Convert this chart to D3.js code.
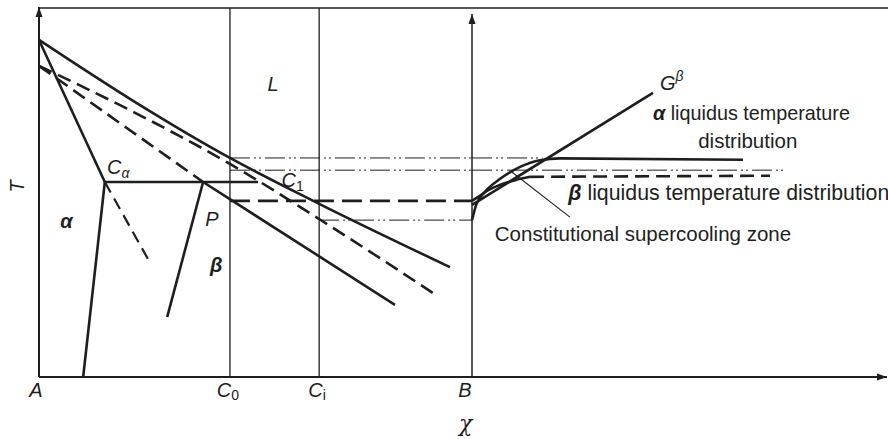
<!DOCTYPE html>
<html><head><meta charset="utf-8">
<script src="https://cdn.jsdelivr.net/npm/d3@7"></script>
<style>body{margin:0;background:#fff}svg{display:block}</style>
</head><body>
<script>
// ---- Phase diagram (composition A..B, temperature 0..100) ----
const compLabels = [
  {base: "A", sub: "", x: 0},
  {base: "C", sub: "0", x: 44.1},
  {base: "C", sub: "i", x: 64.7},
  {base: "B", sub: "", x: 100}
];
const c0 = 44.1, ci = 64.7;

const alphaLiquidus    = [[0, 91.1], [22.2, 74.3], [44.1, 59.2], [64.7, 46.8], [94.9, 29.7]];
const alphaSolidus     = [[0, 91.1], [15.2, 52.7]];
const alphaSolvus      = [[15.2, 52.7], [10.2, 0]];
const alphaSolvusExt   = [[15.2, 52.7], [25.4, 31.4]];
const eutecticLine     = [[15.2, 52.7], [50.6, 52.7]];
const betaSolidusExt   = [[0, 84.1], [37.9, 52.7]];
const betaSolidus      = [[37.9, 52.7], [82.2, 19.5]];
const betaLiquidusExt  = [[0, 84.1], [22.2, 71.4], [44.1, 57.6], [64.7, 42.7], [91.0, 22.7]];
const betaSolvus       = [[37.9, 52.7], [29.6, 16.2]];

// ---- Temperature ahead of the interface (distance 0..100 from B) ----
const gradientLine      = [[0, 46.5], [43.6, 76.8]];
const alphaDistribution = [[0, 42.4], [1, 46.5], [3.1, 50], [6.7, 53.5], [11.6, 56.8], [16.4, 58.6], [21.2, 59.1], [65.3, 58.7]];
const betaCurve         = [[0, 47.6], [1.4, 48.6], [3.6, 50.3], [6.7, 51.9], [10.4, 53.2], [14, 54.1]];
const betaPlateau       = [[14, 54.1], [71.8, 54.4]];

// horizontal guide levels: [temperature, start composition, end distance]
const guideAlpha    = [59.2, c0, 17];
const guideBeta     = [55.9, c0, 75.9];
const guideCi       = [42.4, ci, 0];
const interfaceBeta = [47.6, c0, 0];

const W = 888, H = 439;
const x = d3.scaleLinear().domain([0, 100]).range([39, 472]);
const xd = d3.scaleLinear().domain([0, 100]).range([472, 887]);
const y = d3.scaleLinear().domain([0, 100]).range([377, 7]);

const ink = "#1e1e1e";
const svg = d3.select("body").append("svg").attr("width", W).attr("height", H);

const defs = svg.append("defs");
defs.append("marker").attr("id", "arr").attr("viewBox", "0 0 10 10")
  .attr("refX", 10).attr("refY", 5).attr("markerWidth", 10).attr("markerHeight", 10)
  .attr("markerUnits", "userSpaceOnUse").attr("orient", "auto")
  .append("path").attr("d", "M0,1.5 L10,5 L0,8.5 Z").attr("fill", ink);

const lineC = d3.line().x(d => x(d[0])).y(d => y(d[1]));
const lineD = d3.line().x(d => xd(d[0])).y(d => y(d[1]));

function path(g, data, gen, w, dash, curve) {
  const gg = curve ? gen.curve(curve) : gen.curve(d3.curveLinear);
  g.append("path").attr("d", gg(data)).attr("fill", "none").attr("stroke", ink)
    .attr("stroke-width", w).attr("stroke-dasharray", dash || null)
    .attr("stroke-linecap", "butt").attr("stroke-linejoin", "round");
}

const frame = svg.append("g");
// temperature axis with arrow, top border
frame.append("line").attr("x1", x(0)).attr("y1", y(0)).attr("x2", x(0)).attr("y2", y(100))
  .attr("stroke", ink).attr("stroke-width", 2).attr("marker-end", "url(#arr)");
frame.append("line").attr("x1", x(0)).attr("y1", y(100) + 1).attr("x2", W).attr("y2", y(100) + 1)
  .attr("stroke", ink).attr("stroke-width", 1.5);
// composition axis with arrow
frame.append("line").attr("x1", x(0)).attr("y1", y(0)).attr("x2", xd(100)).attr("y2", y(0))
  .attr("stroke", ink).attr("stroke-width", 2).attr("marker-end", "url(#arr)");
// B: interface axis with arrow
frame.append("line").attr("x1", x(100)).attr("y1", y(0)).attr("x2", x(100)).attr("y2", y(98.1))
  .attr("stroke", ink).attr("stroke-width", 1.5).attr("marker-end", "url(#arr)");
// C0 and Ci verticals
[c0, ci].forEach(v => frame.append("line").attr("x1", x(v)).attr("x2", x(v))
  .attr("y1", y(0)).attr("y2", y(100) + 1).attr("stroke", ink).attr("stroke-width", 1.3));

const g = svg.append("g");
const thick = 2.6, dash = "14,7";
const dashDot = "20,4,2,3,2,4";

// guide levels
path(g, [[guideAlpha[1], guideAlpha[0]], [100, guideAlpha[0]]], lineC, 1, dashDot);
path(g, [[0, guideAlpha[0]], [guideAlpha[2], guideAlpha[0]]], lineD, 1, dashDot);
path(g, [[guideBeta[1], guideBeta[0]], [100, guideBeta[0]]], lineC, 1, dashDot);
path(g, [[0, guideBeta[0]], [guideBeta[2], guideBeta[0]]], lineD, 1, dashDot);
path(g, [[guideCi[1], guideCi[0]], [100, guideCi[0]]], lineC, 1, dashDot);
path(g, [[interfaceBeta[1], interfaceBeta[0]], [100, interfaceBeta[0]]], lineC, thick, "20,8");

// phase boundaries
path(g, alphaLiquidus, lineC, thick, null, d3.curveMonotoneX);
path(g, alphaSolidus, lineC, thick);
path(g, alphaSolvus, lineC, thick);
path(g, alphaSolvusExt, lineC, thick - 0.4, "12,7");
path(g, eutecticLine, lineC, thick);
path(g, betaSolidusExt, lineC, thick, dash);
path(g, betaSolidus, lineC, thick);
path(g, betaLiquidusExt, lineC, thick, dash, d3.curveMonotoneX);
path(g, betaSolvus, lineC, thick);

// temperature distributions ahead of the interface
path(g, gradientLine, lineD, thick);
path(g, alphaDistribution, lineD, thick, null, d3.curveMonotoneX);
path(g, betaCurve, lineD, thick, null, d3.curveMonotoneX);
path(g, betaPlateau, lineD, thick, dash);
// pointer to supercooling zone
path(g, [[9.6, 55.4], [23.6, 43.2]], lineD, 1.1);

// ---- text ----
const font = "'Liberation Sans', Arial, sans-serif";
const txt = svg.append("g").attr("font-family", font).attr("fill", ink);

compLabels.forEach(d => {
  const dx = d.base === "B" ? -7 : d.base === "A" ? -3 : (d.sub ? -2 : 0);
  const t = txt.append("text").attr("x", x(d.x) + dx).attr("y", 397)
    .attr("text-anchor", "middle").attr("font-size", 20).attr("font-style", "italic");
  t.append("tspan").text(d.base);
  if (d.sub) t.append("tspan").attr("font-size", 14).attr("font-style", "normal").attr("dy", 3).text(d.sub);
});
txt.append("text").attr("x", xd(-1.5)).attr("y", 431).attr("text-anchor", "middle")
  .attr("font-size", 22).attr("font-style", "italic").attr("font-family", "'DejaVu Serif', serif").text("χ");
txt.append("text").attr("transform", `translate(24,${y(51.5)}) rotate(-90)`).attr("text-anchor", "middle")
  .attr("font-size", 20).attr("font-style", "italic").text("T");

function label(px, py, base, sub, opts = {}) {
  const t = txt.append("text").attr("x", px).attr("y", py).attr("font-size", opts.size || 20)
    .attr("font-style", "italic").attr("font-weight", opts.bold ? "bold" : null);
  t.append("tspan").text(base);
  if (sub) t.append("tspan").attr("font-size", 14).attr("dy", opts.sup ? -9 : 4)
    .attr("font-style", opts.subItalic ? "italic" : "normal").text(sub);
  return t;
}
label(x(52.8), y(77.3), "L");
label(x(15.7), y(54.8), "C", "α", {subItalic: true});
label(x(56.0), y(51.4), "C", "1");
label(x(38.4), y(40.8), "P");
label(x(39.5), y(28.3), "β", null, {bold: true});
label(x(4.9), y(40.3), "α", null, {bold: true});
label(xd(45.3), y(77.6), "G", "β", {sup: true, subItalic: true});

const plain = (px, py, parts, size) => {
  const t = txt.append("text").attr("x", px).attr("y", py).attr("font-size", size || 20.5);
  parts.forEach(p => t.append("tspan").attr("font-style", p.i ? "italic" : "normal")
    .attr("font-weight", p.b ? "bold" : "normal").text(p.s));
};
plain(xd(43.6), 120, [{s: "α", i: 1, b: 1}, {s: " liquidus temperature"}], 19.8);
plain(xd(54.5), 148, [{s: "distribution"}]);
plain(xd(23.2), 200, [{s: "β", i: 1, b: 1}, {s: " liquidus temperature distribution"}], 21.3);
plain(xd(5.5), 241, [{s: "Constitutional supercooling zone"}]);
</script>
</body></html>
